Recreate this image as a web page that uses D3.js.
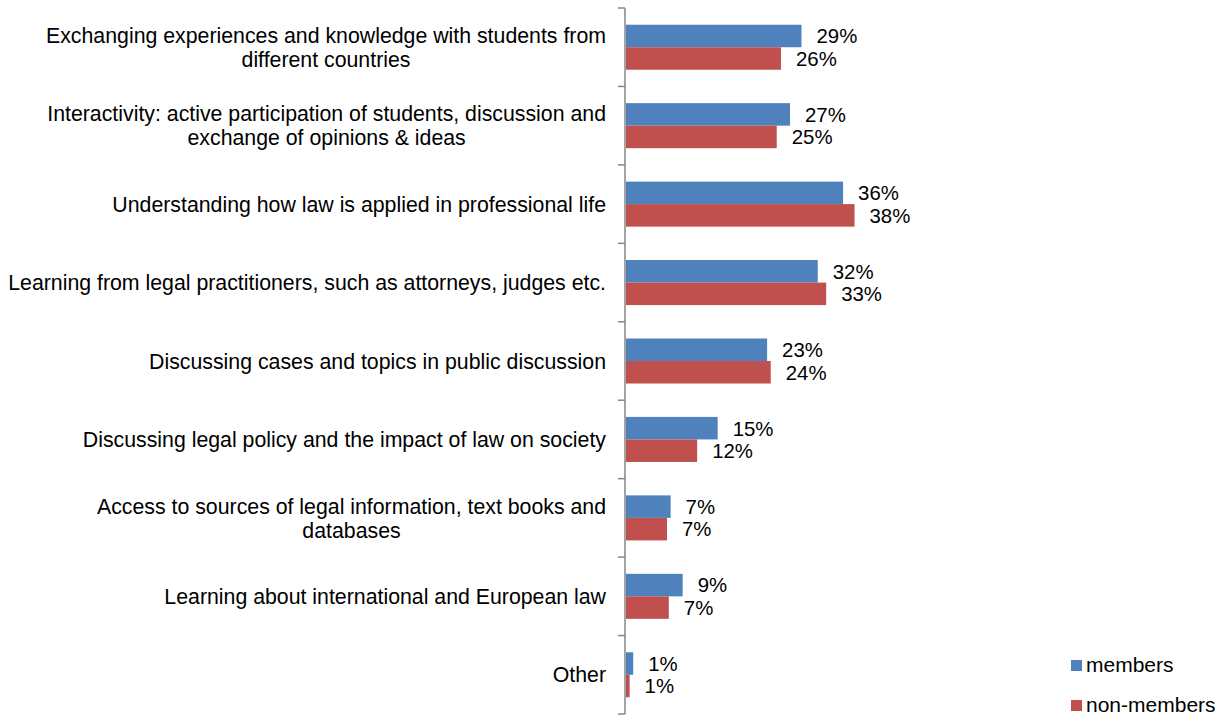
<!DOCTYPE html>
<html>
<head>
<meta charset="utf-8">
<script src="https://cdn.jsdelivr.net/npm/d3@7"></script>
<style>
  html, body { margin: 0; padding: 0; background: #fff; }
  svg { display: block; font-family: Arial, "Liberation Sans", sans-serif; }
</style>
</head>
<body>
<svg id="chart" width="1226" height="715"></svg>
<script>
const categories = [
  "Exchanging experiences and knowledge with students from\ndifferent countries",
  "Interactivity: active participation of students, discussion and\nexchange of opinions & ideas",
  "Understanding how law is applied in professional life",
  "Learning from legal practitioners, such as attorneys, judges etc.",
  "Discussing cases and topics in public discussion",
  "Discussing legal policy and the impact of law on society",
  "Access to sources of legal information, text books and\ndatabases",
  "Learning about international and European law",
  "Other"
];
const seriesNames = ["members", "non-members"];
const members    = [0.291, 0.272, 0.360, 0.318, 0.234, 0.152, 0.074, 0.094, 0.012];
const nonMembers = [0.257, 0.250, 0.379, 0.332, 0.240, 0.118, 0.068, 0.071, 0.006];
const colors = ["#4F81BD", "#C0504D"];

(function() {
const svg = d3.select("#chart");
const axisX = 625, plotTop = 8, plotBottom = 714;

const x = d3.scaleLinear().domain([0, 0.40]).range([axisX, axisX + 241.2]);
const y = d3.scaleBand().domain(d3.range(categories.length)).range([plotTop, plotBottom]).padding(0);
const bw = y.bandwidth();
const ys = d3.scaleBand().domain([0, 1]).range([bw * 0.213, bw * 0.787]).padding(0);

const fmt = d3.format(".0%");
const values = [members, nonMembers];

// bars
values.forEach((vals, si) => {
  svg.append("g").selectAll("rect").data(vals).join("rect")
    .attr("x", axisX + 1)
    .attr("y", (d, i) => y(i) + ys(si))
    .attr("width", d => x(d) - axisX)
    .attr("height", ys.bandwidth())
    .attr("fill", colors[si]);
  svg.append("g").selectAll("text").data(vals).join("text")
    .attr("x", d => x(d) + 16)
    .attr("y", (d, i) => y(i) + ys(si) + ys.bandwidth() / 2)
    .attr("dy", "0.36em")
    .attr("font-size", 20.4)
    .attr("fill", "#000")
    .text(d => fmt(d));
});

// axis
const axisG = svg.append("g").attr("transform", `translate(${axisX},0)`);
axisG.append("line").attr("x1", 0).attr("x2", 0).attr("y1", plotTop).attr("y2", plotBottom)
  .attr("stroke", "#868686").attr("stroke-width", 1.5);
const tickYs = d3.range(categories.length + 1).map(i => plotTop + i * bw);
axisG.selectAll("line.tick").data(tickYs).join("line").attr("class", "tick")
  .attr("x1", -7).attr("x2", 0).attr("y1", d => d).attr("y2", d => d)
  .attr("stroke", "#868686").attr("stroke-width", 1.5);

// category labels
const lineH = 24;
const labelG = svg.append("g");
labelG.selectAll("text").data(categories).join("text")
  .attr("text-anchor", "middle")
  .attr("font-size", 21.3)
  .attr("fill", "#000")
  .each(function(d, i) {
    const lines = d.split("\n");
    const t = d3.select(this);
    const cy = y(i) + bw / 2;
    const startY = cy - (lines.length - 1) * lineH / 2;
    lines.forEach((ln, k) => {
      t.append("tspan").attr("y", startY + k * lineH).attr("dy", "0.36em").text(ln);
    });
  });
labelG.selectAll("text").each(function() {
  const t = d3.select(this);
  const tsp = t.selectAll("tspan").nodes();
  const maxW = d3.max(tsp.map(n => n.getComputedTextLength()));
  t.selectAll("tspan").attr("x", 606 - maxW / 2);
});

// legend
const legend = svg.append("g");
const legY = [660, 700];
seriesNames.forEach((name, si) => {
  legend.append("rect").attr("x", 1071).attr("y", legY[si]).attr("width", 11).attr("height", 11)
    .attr("fill", colors[si]);
  legend.append("text").attr("x", 1086).attr("y", legY[si] + 11.5)
    .attr("font-size", 21).attr("fill", "#000").text(name);
});
})();
</script>
</body>
</html>
